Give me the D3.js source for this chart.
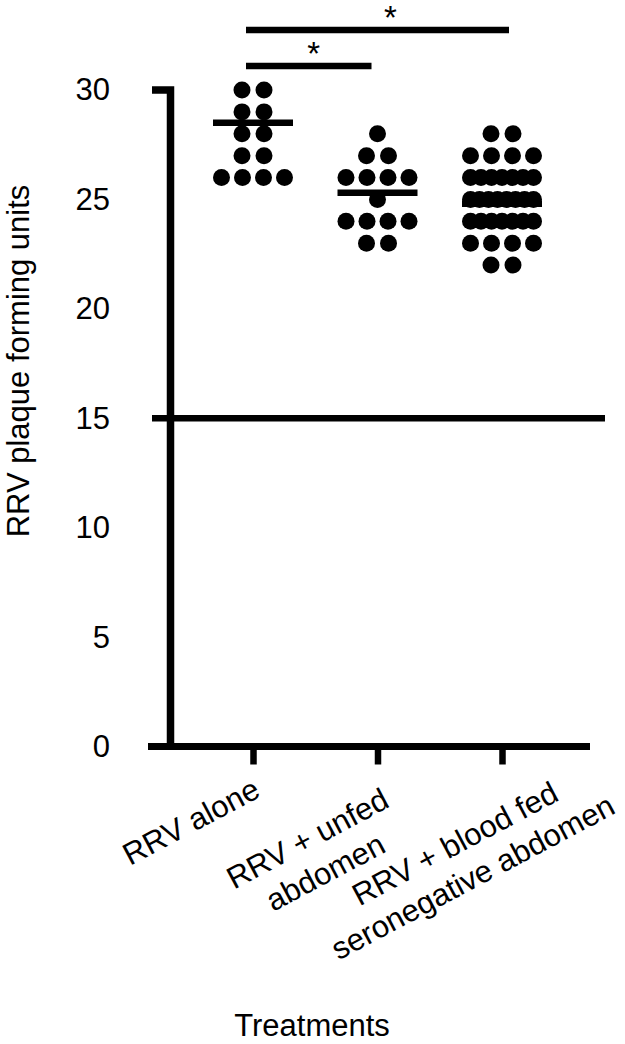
<!DOCTYPE html>
<html>
<head>
<meta charset="utf-8">
<script src="https://cdn.jsdelivr.net/npm/d3@7"></script>
<style>
  html, body { margin: 0; padding: 0; background: #fff; }
  svg { display: block; }
  text { font-family: "Liberation Sans", Arial, sans-serif; fill: #000; }
</style>
</head>
<body>
<svg id="chart" width="625" height="1044"></svg>
<script>
// ---- data ----
const categories = ["RRV alone", "RRV + unfed abdomen", "RRV + blood fed seronegative abdomen"];
const categoryLines = [["RRV alone"], ["RRV + unfed", "abdomen"], ["RRV + blood fed", "seronegative abdomen"]];
const rrvAlone = [30, 30, 29, 29, 28, 28, 27, 27, 26, 26, 26, 26];
const rrvUnfed = [28, 27, 27, 26, 26, 26, 26, 25, 24, 24, 24, 24, 23, 23];
const rrvBloodFed = [28, 28, 27, 27, 27, 27,
  26, 26, 26, 26, 26, 26, 26,
  25, 25, 25, 25, 25, 25, 25, 25,
  24, 24, 24, 24, 24, 24, 24,
  23, 23, 23, 23, 22, 22];
const groupMeans = [28.5, 25.3, 24.8];
const yTickValues = [0, 5, 10, 15, 20, 25, 30];
const thresholdValue = 15;
const comparisons = [
  { from: 0, to: 1, label: "*" },
  { from: 0, to: 2, label: "*" }
];
const yTitle = "RRV plaque forming units";
const xTitle = "Treatments";

// ---- layout ----
const svg = d3.select("#chart");
const FONT = 31;
const groups = [rrvAlone, rrvUnfed, rrvBloodFed];

const y = d3.scaleLinear().domain([0, 30]).range([746.5, 90]);
const x = d3.scalePoint().domain(categories).range([253, 502]);
const axisX = 170.5;

// threshold line at 15
svg.append("line")
  .attr("x1", 152).attr("x2", 605)
  .attr("y1", y(thresholdValue)).attr("y2", y(thresholdValue))
  .attr("stroke", "#000").attr("stroke-width", 6.5);

// y axis labels via d3 axis
const yAxis = d3.axisLeft(y).tickValues(yTickValues).tickSize(0).tickPadding(axisX - 110);
const gy = svg.append("g").attr("transform", `translate(${axisX},0)`).call(yAxis);
gy.select(".domain").remove();
gy.selectAll("text").attr("font-size", FONT).attr("font-family", "Liberation Sans, Arial, sans-serif").attr("fill", "#000");

// y axis line with top tick
svg.append("path")
  .attr("d", `M152,${y(30)} H${axisX} V${y(0)}`)
  .attr("fill", "none").attr("stroke", "#000").attr("stroke-width", 7.5)
  .attr("stroke-linejoin", "miter");

// x axis with ticks
const xAxis = d3.axisBottom(x).tickSize(18).tickFormat("");
const gx = svg.append("g").attr("transform", `translate(0,${y(0)})`).call(xAxis);
gx.select(".domain").remove();
gx.selectAll(".tick line").attr("stroke", "#000").attr("stroke-width", 6.5);
svg.append("line")
  .attr("x1", 148).attr("x2", 590)
  .attr("y1", y(0)).attr("y2", y(0))
  .attr("stroke", "#000").attr("stroke-width", 7);

// dots: rows of equal values spread horizontally
const r = 8.5;
groups.forEach((vals, gi) => {
  const cx = x(categories[gi]);
  const rows = d3.group(vals, v => v);
  const pts = [];
  rows.forEach((arr, v) => {
    const n = arr.length;
    const step = n > 1 ? Math.min(22, 63 / (n - 1)) : 0;
    arr.forEach((_, i) => pts.push({ v, off: (i - (n - 1) / 2) * step }));
  });
  svg.append("g").selectAll("circle").data(pts).join("circle")
    .attr("cx", d => cx + d.off)
    .attr("cy", d => y(d.v))
    .attr("r", r)
    .attr("fill", "#000");
  // mean line
  svg.append("line")
    .attr("x1", cx - 40).attr("x2", cx + 40)
    .attr("y1", y(groupMeans[gi])).attr("y2", y(groupMeans[gi]))
    .attr("stroke", "#000").attr("stroke-width", 6.5);
});

// significance bars
const barY = [66, 30];
comparisons.forEach((c, i) => {
  const x1 = x(categories[c.from]) - 7;
  const x2 = x(categories[c.to]) + (c.to === 2 ? 7 : -6);
  svg.append("line")
    .attr("x1", x1).attr("x2", x2)
    .attr("y1", barY[i]).attr("y2", barY[i])
    .attr("stroke", "#000").attr("stroke-width", 6.5);
  svg.append("text")
    .attr("x", (x1 + x2) / 2 + (i === 0 ? 5 : 13))
    .attr("y", barY[i] - 1)
    .attr("text-anchor", "middle")
    .attr("font-size", 33)
    .text(c.label);
});

// rotated category labels (lines centered)
const ang = 28;
const rad = ang * Math.PI / 180;
const lineH = 38;
const labelCenters = [[-57, 831], [-65, 848], [-42, 853]];
categoryLines.forEach((lines, gi) => {
  const tx = x(categories[gi]);
  lines.forEach((ln, li) => {
    const cx = tx + labelCenters[gi][0] + li * lineH * Math.sin(rad);
    const cy = labelCenters[gi][1] + li * lineH * Math.cos(rad);
    svg.append("text")
      .attr("transform", `translate(${cx},${cy}) rotate(${-ang})`)
      .attr("text-anchor", "middle")
      .attr("font-size", FONT)
      .text(ln);
  });
});

// axis titles
svg.append("text")
  .attr("transform", `translate(29,361) rotate(-90)`)
  .attr("text-anchor", "middle")
  .attr("font-size", FONT)
  .text(yTitle);

svg.append("text")
  .attr("x", 312).attr("y", 1036)
  .attr("text-anchor", "middle")
  .attr("font-size", FONT)
  .text(xTitle);
</script>
</body>
</html>
